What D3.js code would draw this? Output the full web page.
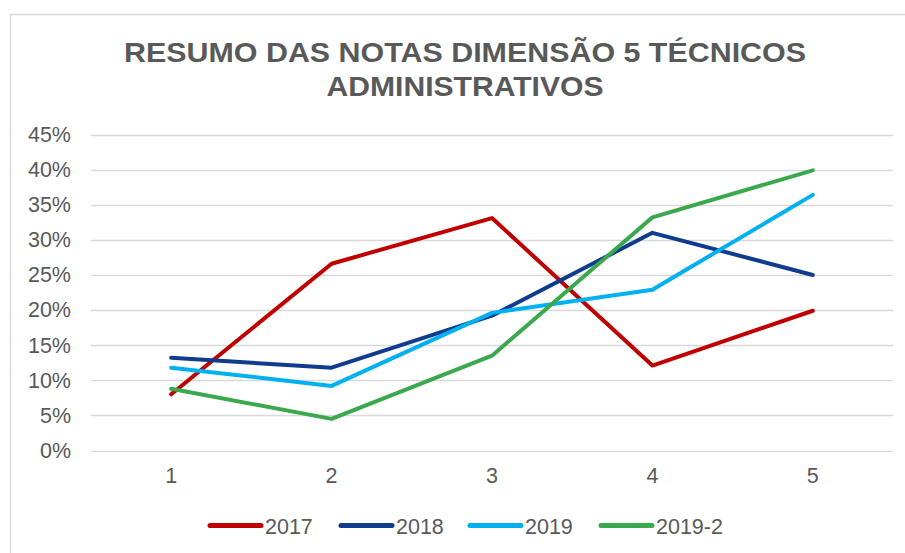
<!DOCTYPE html>
<html>
<head>
<meta charset="utf-8">
<script src="https://cdn.jsdelivr.net/npm/d3@7"></script>
<style>
  html, body { margin: 0; padding: 0; background: #fff; }
  svg { display: block; }
  text { font-family: "Liberation Sans", Arial, sans-serif; fill: #595959; }
</style>
</head>
<body>
<svg id="chart" width="905" height="553"></svg>
<script>
// Categories (dimension scores) and the share of answers per year
const categories = ["1", "2", "3", "4", "5"];
const seriesNames = ["2017", "2018", "2019", "2019-2"];
const values2017 = [0.080, 0.266, 0.331, 0.121, 0.199];
const values2018 = [0.132, 0.118, 0.192, 0.310, 0.250];
const values2019 = [0.118, 0.092, 0.196, 0.229, 0.364];
const values2019b = [0.088, 0.045, 0.135, 0.332, 0.399];
const seriesColors = ["#C00000", "#0F3C8F", "#00B0F0", "#3AA84C"];
const yTicks = [0, 0.05, 0.10, 0.15, 0.20, 0.25, 0.30, 0.35, 0.40, 0.45];
const titleLines = ["RESUMO DAS NOTAS DIMENSÃO 5 TÉCNICOS", "ADMINISTRATIVOS"];

const series = seriesNames.map((name, i) => ({
  name,
  color: seriesColors[i],
  values: [values2017, values2018, values2019, values2019b][i]
}));

const svg = d3.select("#chart");

// chart frame
svg.append("path")
  .attr("d", "M10.5,553 L10.5,14.5 L905,14.5")
  .attr("fill", "none")
  .attr("stroke", "#d9d9d9")
  .attr("stroke-width", 1.5);

// title
const titleWidths = [682, 277];
svg.append("g").selectAll("text")
  .data(titleLines)
  .join("text")
  .attr("x", 465)
  .attr("y", (d, i) => 62 + i * 34)
  .attr("text-anchor", "middle")
  .attr("font-size", 28)
  .attr("font-weight", "bold")
  .attr("textLength", (d, i) => titleWidths[i])
  .attr("lengthAdjust", "spacingAndGlyphs")
  .text(d => d);

const x = d3.scaleBand().domain(categories).range([91, 893]);
const y = d3.scaleLinear().domain([0, 0.45]).range([450.5, 134.5]);

// horizontal gridlines
svg.append("g").selectAll("line")
  .data(yTicks)
  .join("line")
  .attr("x1", 91).attr("x2", 893)
  .attr("y1", d => Math.round(y(d)) + 0.5)
  .attr("y2", d => Math.round(y(d)) + 0.5)
  .attr("stroke", "#d9d9d9")
  .attr("stroke-width", 1.5);

// y axis labels
const yAxis = d3.axisLeft(y).tickValues(yTicks).tickFormat(d3.format(".0%")).tickSize(0).tickPadding(0);
const yG = svg.append("g").attr("transform", "translate(71,0)").call(yAxis);
yG.select(".domain").remove();
yG.selectAll("text").attr("font-size", 21.5).attr("fill", "#595959")
  .attr("font-family", "Liberation Sans, Arial, sans-serif");

// x axis labels
const xAxis = d3.axisBottom(x).tickSize(0).tickPadding(0);
const xG = svg.append("g").attr("transform", "translate(0,468)").call(xAxis);
xG.select(".domain").remove();
xG.selectAll("text").attr("font-size", 21.5).attr("fill", "#595959")
  .attr("font-family", "Liberation Sans, Arial, sans-serif");

// series lines
const line = d3.line()
  .x((d, i) => x(categories[i]) + x.bandwidth() / 2)
  .y(d => y(d));

svg.append("g").selectAll("path")
  .data(series)
  .join("path")
  .attr("d", d => line(d.values))
  .attr("fill", "none")
  .attr("stroke", d => d.color)
  .attr("stroke-width", 4)
  .attr("stroke-linejoin", "round")
  .attr("stroke-linecap", "round");

// legend
const legendX = [210, 341, 470, 601];
const lg = svg.append("g").selectAll("g")
  .data(series)
  .join("g")
  .attr("transform", (d, i) => `translate(${legendX[i]},525.5)`);
lg.append("line")
  .attr("x1", 0).attr("x2", 51)
  .attr("stroke", d => d.color)
  .attr("stroke-width", 5)
  .attr("stroke-linecap", "round");
lg.append("text")
  .attr("x", 55)
  .attr("y", 8)
  .attr("font-size", 21.5)
  .text(d => d.name);
</script>
</body>
</html>
